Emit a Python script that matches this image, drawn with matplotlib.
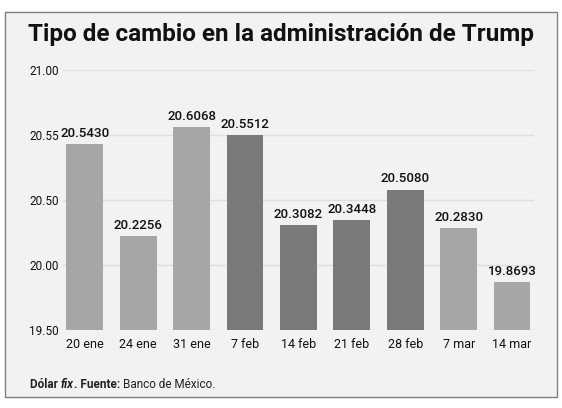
import numpy as np
import matplotlib
matplotlib.use("Agg")
import matplotlib.pyplot as plt
from matplotlib.patches import Rectangle
from matplotlib.offsetbox import TextArea, HPacker, AnchoredOffsetbox

categories = ["20 ene", "24 ene", "31 ene", "7 feb", "14 feb", "21 feb", "28 feb", "7 mar", "14 mar"]
values = [20.5430, 20.2256, 20.6068, 20.5512, 20.3082, 20.3448, 20.5080, 20.2830, 19.8693]
tick_values = [19.50, 20.00, 20.50, 20.55, 21.00]
tick_labels = ["19.50", "20.00", "20.50", "20.55", "21.00"]
bar_colors = ["#a6a6a6", "#a6a6a6", "#a6a6a6", "#7a7a7a", "#7a7a7a", "#7a7a7a", "#7a7a7a", "#a6a6a6", "#a6a6a6"]

plt.rcParams['font.family'] = ['Roboto', 'DejaVu Sans']

fig = plt.figure(figsize=(5.62, 4.08), dpi=100)
fig.patch.set_facecolor("white")
fig.patches.append(Rectangle((5/562, 1 - 397/408), 552/562, 385/408, transform=fig.transFigure,
                             facecolor="#f2f2f2", edgecolor="#7f7f7f", linewidth=1.0, zorder=-10))

ax = fig.add_axes([63/562, 1 - 330/408, 472/562, 260/408])
ax.set_facecolor("none")

idx = np.arange(len(tick_values), dtype=float)
tv = np.array(tick_values)
ax.set_yscale("function", functions=(lambda v: np.interp(v, tv, idx), lambda p: np.interp(p, idx, tv)))

x = np.arange(len(categories))
base = tick_values[0]
ax.bar(x, np.array(values) - base, bottom=base, width=0.69, color=bar_colors, zorder=2)
for xi, v in zip(x, values):
    ax.annotate(f"{v:.4f}", (xi, v), xytext=(0, 3), textcoords="offset points",
                ha="center", va="bottom", fontsize=9.5, fontweight="medium", color="#111111")

ax.set_ylim(tick_values[0], tick_values[-1])
ax.set_xlim(-0.41, len(categories) - 1 + 0.43)
ax.set_yticks(tick_values)
ax.set_yticklabels(tick_labels)
ax.set_xticks(x)
ax.set_xticklabels(categories)
ax.tick_params(axis="y", length=0, pad=3, labelsize=8.5, labelcolor="#111111")
ax.tick_params(axis="x", length=0, pad=6, labelsize=9, labelcolor="#111111")
ax.yaxis.grid(True, color="#dedede", linewidth=1.0, zorder=0)
for s in ax.spines.values():
    s.set_visible(False)

fig.text(0.5, 1 - 35/408, "Tipo de cambio en la administración de Trump", ha="center", va="center",
         fontsize=17.5, fontweight="bold", color="#111111")

fs = 8.5
parts = [TextArea("Dólar ", textprops=dict(fontsize=fs, fontweight="bold", color="#222222")),
         TextArea("fix", textprops=dict(fontsize=fs, fontweight="bold", fontstyle="italic", color="#222222")),
         TextArea(". Fuente: ", textprops=dict(fontsize=fs, fontweight="bold", color="#222222")),
         TextArea("Banco de México.", textprops=dict(fontsize=fs, color="#222222"))]
box = HPacker(children=parts, align="baseline", pad=0, sep=0)
ab = AnchoredOffsetbox(loc="center left", child=box, pad=0, frameon=False,
                       bbox_to_anchor=(30/562, 1 - 384/408), bbox_transform=fig.transFigure, borderpad=0)
fig.add_artist(ab)

fig.savefig("out.png", dpi=100)
